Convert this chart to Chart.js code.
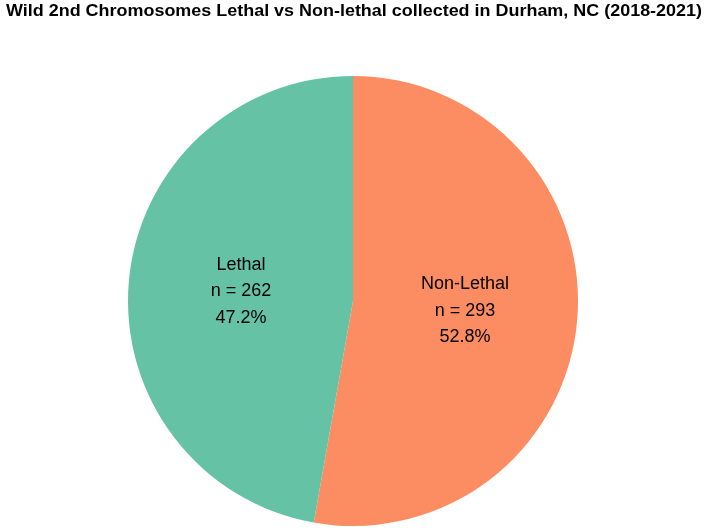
<!DOCTYPE html>
<html>
<head>
<meta charset="utf-8">
<script src="https://cdn.jsdelivr.net/npm/chart.js@4"></script>
<style>
  html, body { margin: 0; padding: 0; background: #fff; }
  #wrap { width: 706px; height: 531px; }
</style>
</head>
<body>
<div id="wrap"><canvas id="myChart"></canvas></div>
<script>
const titleText = 'Wild 2nd Chromosomes Lethal vs Non-lethal collected in Durham, NC (2018-2021)';
const categories = ['Non-Lethal', 'Lethal'];
const counts = [293, 262];
const percents = ['52.8%', '47.2%'];
const colors = ['#fc8d62', '#66c2a5'];

const ctx = document.getElementById('myChart');

// title + slice labels drawn by hand
const labelPlugin = {
  id: 'labelPlugin',
  afterDraw(chart) {
    const c = chart.ctx;
    c.save();
    c.fillStyle = '#000';
    c.textAlign = 'center';
    c.textBaseline = 'middle';
    c.font = 'bold 17px "Liberation Sans", Arial, sans-serif';
    // title in the reference is a bit wider than Liberation, stretch it
    const w = c.measureText(titleText).width;
    const sx = 696 / w;
    c.save();
    c.translate(354, 11);
    c.scale(sx, 1);
    c.fillText(titleText, 0, 0);
    c.restore();

    c.font = '18px "Liberation Sans", Arial, sans-serif';
    const meta = chart.getDatasetMeta(0);
    meta.data.forEach((arc, i) => {
      const p = arc.getProps(['x', 'y', 'startAngle', 'endAngle', 'outerRadius'], true);
      const mid = (p.startAngle + p.endAngle) / 2;
      const r = p.outerRadius * 0.5;
      const cx = p.x + Math.cos(mid) * r;
      const cy = p.y + Math.sin(mid) * r;
      const lines = [categories[i], 'n = ' + counts[i], percents[i]];
      lines.forEach((t, j) => c.fillText(t, cx, cy + (j - 1) * 26.5));
    });
    c.restore();
  }
};

new Chart(ctx, {
  type: 'pie',
  data: {
    labels: categories,
    datasets: [{
      data: counts,
      backgroundColor: colors,
      borderWidth: 0
    }]
  },
  options: {
    responsive: true,
    maintainAspectRatio: false,
    animation: false,
    layout: { padding: { top: 76, bottom: 5, left: 0, right: 0 } },
    plugins: {
      legend: { display: false },
      tooltip: { enabled: false },
      title: { display: false }
    }
  },
  plugins: [labelPlugin]
});
</script>
</body>
</html>
